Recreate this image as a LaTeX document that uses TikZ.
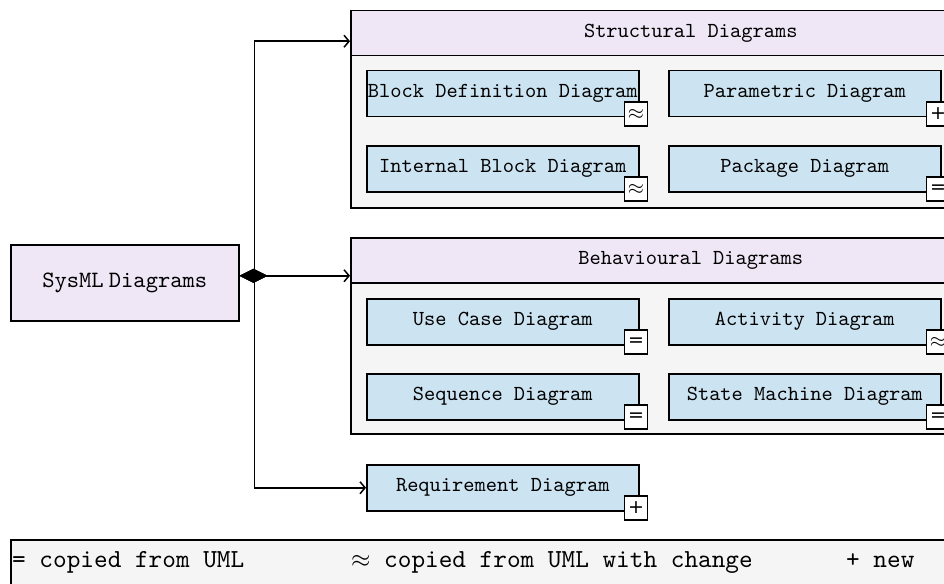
\documentclass[tikz,border=0pt]{standalone}
\usepackage{fontspec}
\setmonofont{lmmono10-regular.otf}
\newfontfamily\markglyph{DejaVu Sans}
\usetikzlibrary{arrows.meta}
\definecolor{lav}{HTML}{EFE6F6}
\definecolor{diagblue}{HTML}{CCE3F1}
\definecolor{contbg}{HTML}{F5F5F5}
\newcommand{\boxfont}{\fontsize{21.4}{25}\selectfont\ttfamily}
\newcommand{\rootfont}{\fontsize{23.4}{27}\selectfont\ttfamily}
\newcommand{\legfont}{\fontsize{26}{30}\selectfont\ttfamily}
\newcommand{\markfont}{\fontsize{21}{21}\selectfont}
\newcommand{\mplus}{{\markglyph\fontsize{19}{19}\selectfont +}}
\newcommand{\mequal}{{\markglyph\fontsize{19}{19}\selectfont =}}
\tikzset{
  container/.style={draw, line width=1.5pt, fill=contbg, minimum width=680pt, anchor=north west, inner sep=0pt},
  header/.style={draw, line width=1.5pt, fill=lav, minimum width=680pt, minimum height=45pt, anchor=north west, inner sep=0pt, font=\boxfont},
  diagbox/.style={draw, line width=1.5pt, fill=diagblue, minimum width=272pt, minimum height=46pt, anchor=north west, inner sep=0pt, font=\boxfont},
  marker/.style={draw, line width=1.4pt, fill=white, minimum width=23pt, minimum height=24pt, inner sep=0pt, font=\markfont},
  conn/.style={line width=1.5pt, {Diamond[length=28pt,width=14pt]}-{Straight Barb[length=5pt,width=12pt]}},
  legtext/.style={anchor=base west, inner sep=0pt, font=\legfont}
}
\begin{document}
\begin{tikzpicture}[x=1pt,y=-1pt]
\useasboundingbox (0,0) rectangle (944,583);

% root element
\node[draw, line width=1.5pt, fill=lav, anchor=north west, minimum width=228pt, minimum height=76pt, font=\rootfont] (sys) at (10,244) {SysML\hspace{0.22em}Diagrams\hspace{14pt}};

% structural diagrams
\node[container, minimum height=197pt] (sc) at (350,10) {};
\node[header] (sh) at (350,10) {Structural Diagrams};
\node[diagbox] (bdd) at (366,70) {Block Definition Diagram};
\node[diagbox] (pmd) at (668,70) {Parametric Diagram};
\node[diagbox] (ibd) at (366,145) {Internal Block Diagram};
\node[diagbox] (pkg) at (668,145) {Package Diagram};

% behavioural diagrams
\node[container, minimum height=196pt] (bc) at (350,237) {};
\node[header] (bh) at (350,237) {Behavioural Diagrams};
\node[diagbox] (uc) at (366,298) {Use Case Diagram};
\node[diagbox] (act) at (668,298) {Activity Diagram};
\node[diagbox] (seq) at (366,373) {Sequence Diagram};
\node[diagbox] (stm) at (668,373) {State Machine Diagram};

% requirement diagram
\node[diagbox] (req) at (366,464) {Requirement Diagram};

% origin markers
\node[marker] (mbdd) at ([xshift=-3.5pt,yshift=3.5pt]bdd.south east) {$\approx$};
\node[marker] (mpmd) at ([xshift=-3.5pt,yshift=3.5pt]pmd.south east) {\mplus};
\node[marker] (mibd) at ([xshift=-3.5pt,yshift=3.5pt]ibd.south east) {$\approx$};
\node[marker] (mpkg) at ([xshift=-3.5pt,yshift=3.5pt]pkg.south east) {\mequal};
\node[marker] (muc) at ([xshift=-3.5pt,yshift=3.5pt]uc.south east) {\mequal};
\node[marker] (mact) at ([xshift=-3.5pt,yshift=3.5pt]act.south east) {$\approx$};
\node[marker] (mseq) at ([xshift=-3.5pt,yshift=3.5pt]seq.south east) {\mequal};
\node[marker] (mstm) at ([xshift=-3.5pt,yshift=3.5pt]stm.south east) {\mequal};
\node[marker] (mreq) at ([xshift=-3.5pt,yshift=3.5pt]req.south east) {\mplus};

% composition connectors
\coordinate (src) at ([yshift=7pt]sys.east);
\draw[conn] (src) -- ++(15,0) |- ([yshift=-8pt]sh.west);
\draw[conn] (src) -- (src -| bh.west);
\draw[conn] (src) -- ++(15,0) |- (req.west);

% legend
\node[draw, line width=1.5pt, fill=contbg, anchor=north west, minimum width=1020pt, minimum height=60pt] (legend) at (10,539) {};
\node[legtext] (l1) at (12,567) {= copied from UML};
\node[legtext] (l2) at (351,567) {$\approx$ copied from UML with change};
\node[legtext] (l3) at (846,567) {+ new};
\end{tikzpicture}
\end{document}
